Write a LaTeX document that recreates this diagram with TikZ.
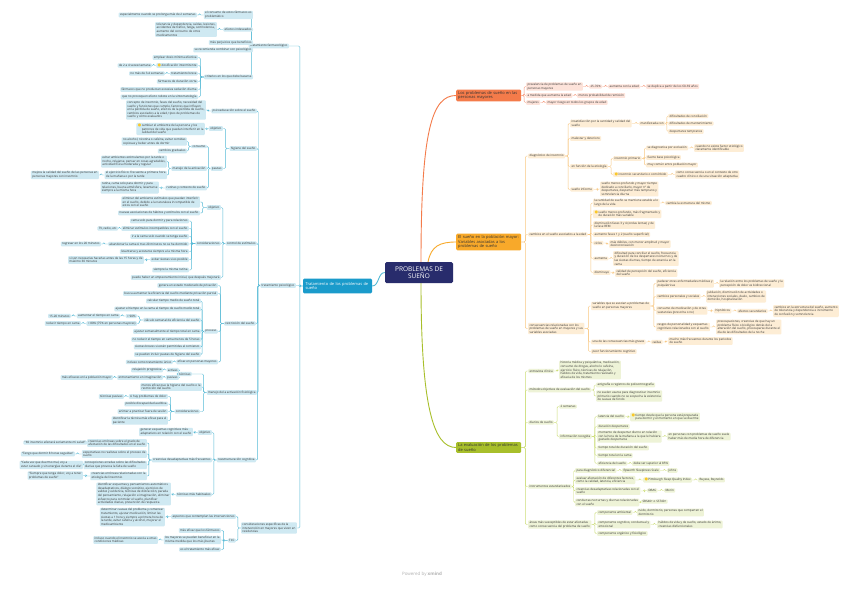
\documentclass[tikz,border=0pt]{standalone}
\usepackage{fontspec}
\setmainfont{Open Sans}
\newfontfamily\djv{DejaVu Sans}
\usetikzlibrary{backgrounds,calc}
\definecolor{navy}{RGB}{40,44,108}
\definecolor{tdark}{RGB}{26,155,203}
\definecolor{tfill}{RGB}{207,233,242}
\definecolor{tline}{RGB}{86,186,214}
\definecolor{rdark}{RGB}{244,123,74}
\definecolor{rfill}{RGB}{253,227,218}
\definecolor{rline}{RGB}{246,150,120}
\definecolor{adark}{RGB}{248,169,42}
\definecolor{afill}{RGB}{253,237,213}
\definecolor{aline}{RGB}{249,200,130}
\definecolor{gdark}{RGB}{168,191,43}
\definecolor{gfill}{RGB}{238,243,215}
\definecolor{gline}{RGB}{205,222,120}
\definecolor{txt}{RGB}{50,50,50}
\definecolor{bulbc}{RGB}{250,200,40}
\newcommand\bulb{{\djv\fontsize{4}{3}\selectfont\color{bulbc}●}\,}
\tikzset{
 lf/.style={rounded corners=0.9pt, inner xsep=1.3pt, inner ysep=0.9pt, align=left, font=\fontsize{3}{3.6}\selectfont, text=txt},
 tleaf/.style={lf, fill=tfill, anchor=east},
 rleaf/.style={lf, fill=rfill, anchor=west},
 aleaf/.style={lf, fill=afill, anchor=west},
 gleaf/.style={lf, fill=gfill, anchor=west},
 tl/.style={draw=tline, line width=0.45pt, rounded corners=1.2pt},
 rl/.style={draw=rline, line width=0.45pt, rounded corners=1.2pt},
 al/.style={draw=aline, line width=0.45pt, rounded corners=1.2pt},
 gl/.style={draw=gline, line width=0.45pt, rounded corners=1.2pt},
 mainnode/.style={rounded corners=1.2pt, inner xsep=2pt, inner ysep=1.5pt, align=left, font=\fontsize{4}{4.8}\selectfont, anchor=west, text width=61pt, text=txt},
 centralnode/.style={fill=navy, text=white, rounded corners=1.5pt, minimum width=68pt, minimum height=21pt, align=center, font=\fontsize{6.5}{7.6}\selectfont, inner sep=1pt},
 tratnode/.style={fill=tdark, text=white, rounded corners=1.2pt, minimum height=14pt, text width=64pt, align=left, font=\fontsize{4}{4.8}\selectfont, inner xsep=2.5pt}
}
\newcommand\lk[2]{\coordinate (m) at ($(#1.west)!0.6!(#2.east)$);\draw[tl] (#1.west) -- (m |- #1.west) |- (#2.east);}
\newcommand\lkd[3]{\draw[tl] (#1.west) -- ++(-#3,0) |- (#2.east);}
\newcommand\rk[3]{\coordinate (m) at ($(#2.east)!0.6!(#3.west)$);\draw[#1] (#2.east) -- (m |- #2.east) |- (#3.west);}
\newcommand\lks[2]{\foreach \x in {#2} {\lk{#1}{\x}}}
\newcommand\rks[3]{\foreach \x in {#3} {\rk{#1}{#2}{\x}}}
\begin{document}
\begin{tikzpicture}[x=1pt,y=-1pt]
\useasboundingbox (0,0) rectangle (848,590);
% ---------- central ----------
\node[centralnode] (c) at (419,272.5) {PROBLEMAS DE\\SUEÑO};
\node[tratnode] (trat) at (337.5,286) {Tratamiento de los problemas de\\sueño};
\node[mainnode, fill=rdark] (prob) at (456,95.5) {Los problemas de sueño en las\\personas mayores};
\node[mainnode, fill=adark] (var) at (456,242) {El sueño en la población mayor:\\Variables asociadas a los\\problemas de sueño};
\node[mainnode, fill=gdark] (eval) at (456,447.5) {La evaluación de los problemas\\de sueño};
% ---------- farmacologico ----------
\node[tleaf] (farm) at (289,46) {tratamiento farmacológico};
\node[tleaf] (f1) at (253,15) {el consumo de estos fármacos es\\problemático};
\node[tleaf] (f1a) at (197,15) {especialmente cuando se prolonga más de 2 semanas};
\node[tleaf] (f2) at (253,29.5) {efectos indeseados};
\node[tleaf] (f2a) at (217,29.5) {tolerancia y dependencia, caídas, lesiones,\\accidentes de tráfico, fatiga, somnolencia,\\aumento del consumo de otros\\medicamentos};
\node[tleaf] (f3) at (253,42.5) {más perjuicios que beneficios};
\node[tleaf] (f4) at (253,50) {se recomienda combinar con psicológico};
\node[tleaf] (f5) at (253,77) {criterios en los que debe basarse};
\node[tleaf] (f5a) at (198,57.5) {emplear dosis mínima efectiva};
\node[tleaf] (f5b) at (198,65.5) {\bulb dosificación intermitente};
\node[tleaf] (f5b1) at (152,65.5) {de 2 a 4 veces/semana};
\node[tleaf] (f5c) at (198,73.5) {tratamiento breve};
\node[tleaf] (f5c1) at (165,73.5) {no más de 3-4 semanas};
\node[tleaf] (f5d) at (198,81.5) {fármacos de duración corta};
\node[tleaf] (f5e) at (198,89.5) {fármacos que no produzcan excesiva sedación diurna};
\node[tleaf] (f5f) at (198,97) {que no provoquen efecto rebote en la sintomatología};
% ---------- psicologico ----------
\node[tleaf] (psic) at (296,285.5) {tratamiento psicológico};
\node[tleaf] (p1) at (257,111) {psicoeducación sobre el sueño};
\node[tleaf] (p1a) at (206,110) {concepto de insomnio, fases del sueño, necesidad del\\sueño y funciones que cumple, factores que influyen\\en la pérdida de sueño, efectos de la pérdida de sueño,\\cambios asociados a la edad, tipos de problemas de\\sueño y cómo evaluarlos};
\node[tleaf] (p2) at (257,148.5) {higiene del sueño};
\node[tleaf] (p2a) at (223,128.5) {objetivo};
\node[tleaf] (p2a1) at (205,129) {\bulb cambiar el ambiente de la persona y los\\\phantom{\bulb}patrones de vida que puedan interferir en la\\\phantom{\bulb}calidad del sueño};
\node[tleaf] (p2b) at (223,168.5) {pautas};
\node[tleaf] (p2b1) at (207,146.5) {consumo};
\node[tleaf] (p2b1a) at (187,141.5) {no alcohol, nicotina o cafeína, evitar comidas\\copiosas y beber antes de dormir};
\node[tleaf] (p2b1b) at (187,151) {cambios graduales};
\node[tleaf] (p2b2) at (207,168.5) {manejo de la activación};
\node[tleaf] (p2b2a) at (167,161.5) {evitar ambientes estimulantes por la tarde o\\noche, relajarse, pensar en cosas agradables,\\actividad física moderada y regular};
\node[tleaf] (p2b2b) at (167,175) {el ejercicio físico: frecuente a primera hora\\de la mañana o por la tarde};
\node[tleaf] (p2b2b1) at (99,175) {mejora la calidad del sueño de las personas en\\personas mayores con insomnio};
\node[tleaf] (p2b3) at (207,188) {rutinas y contexto de sueño};
\node[tleaf] (p2b3a) at (159,187.5) {rutina, cama solo para dormir y para\\relaciones, buena atmósfera, levantarse\\siempre a la misma hora};
\node[tleaf] (p3) at (257,243.5) {control de estímulos};
\node[tleaf] (p3a) at (221,207.5) {objetivo};
\node[tleaf] (p3a1) at (200,202) {eliminar del ambiente estímulos que puedan interferir\\en el sueño, debido a la naturaleza incompatible de\\estos con el sueño};
\node[tleaf] (p3a2) at (200,213) {nuevas asociaciones de hábitos y estímulos con el sueño};
\node[tleaf] (p3b) at (221,243.5) {consideraciones};
\node[tleaf] (p3b1) at (189,221) {cama solo para dormir y para relaciones};
\node[tleaf] (p3b2) at (189,228.5) {eliminar estímulos incompatibles con el sueño};
\node[tleaf] (p3b2a) at (118,228.5) {TV, radio, etc};
\node[tleaf] (p3b3) at (189,236.5) {ir a la cama solo cuando se tenga sueño};
\node[tleaf] (p3b4) at (189,244) {abandonar la cama si tras 20 minutos no se ha dormido};
\node[tleaf] (p3b4a) at (101,244) {regresar en los 20 minutos};
\node[tleaf] (p3b5) at (189,251.5) {levantarse y acostarse siempre a la misma hora};
\node[tleaf] (p3b6) at (189,259.5) {evitar siestas si es posible};
\node[tleaf] (p3b6a) at (144,260) {si son necesarias hacerlas antes de las 15 horas y de\\máximo 30 minutos};
\node[tleaf] (p3b7) at (189,270) {siempre la misma rutina};
\node[tleaf] (p3c) at (221,277.5) {puede haber un empeoramiento inicial, que después mejorará};
\node[tleaf] (p4) at (256,323.5) {restricción del sueño};
\node[tleaf] (p4a) at (218,285.5) {genera un estado moderado de privación};
\node[tleaf] (p4b) at (218,293.5) {busca aumentar la eficiencia del sueño mediante privación parcial};
\node[tleaf] (p4c) at (218,331.5) {proceso};
\node[tleaf] (p4c1) at (201,301) {calcular tiempo medio de sueño total};
\node[tleaf] (p4c2) at (201,309) {ajustar el tiempo en la cama al tiempo de sueño medio total};
\node[tleaf] (p4c3) at (201,320) {cálculo semanal de eficiencia del sueño};
\node[tleaf] (p4c3a) at (137,316) {> 90\%};
\node[tleaf] (p4c3a1) at (120,316) {aumentar el tiempo en cama};
\node[tleaf] (p4c3a1a) at (71,316) {15-20 minutos};
\node[tleaf] (p4c3b) at (137,323.5) {< 80\% (75\% en personas mayores)};
\node[tleaf] (p4c3b1) at (81,323.5) {reducir tiempo en cama};
\node[tleaf] (p4c4) at (201,331.5) {ajustar semanalmente el tiempo total en cama};
\node[tleaf] (p4c5) at (201,339.5) {no reducir el tiempo en cama menos de 5 horas};
\node[tleaf] (p4c6) at (201,347) {siestas breves si están permitidas al comienzo};
\node[tleaf] (p4c7) at (201,354.5) {se pueden incluir pautas de higiene del sueño};
\node[tleaf] (p4d) at (218,362) {eficaz en personas mayores};
\node[tleaf] (p4d1) at (173,362) {incluso como tratamiento único};
\node[tleaf] (p5) at (257,392.5) {manejo de la activación fisiológica};
\node[tleaf] (p5a) at (192,374) {técnicas};
\node[tleaf] (p5a1) at (179,370) {activas};
\node[tleaf] (p5a1a) at (163,370) {relajación progresiva};
\node[tleaf] (p5a2) at (179,377.5) {pasivas};
\node[tleaf] (p5a2a) at (163,377.5) {entrenamiento en imaginación};
\node[tleaf] (p5a2a1) at (113,377.5) {más eficaces en la población mayor};
\node[tleaf] (p5b) at (202,387) {menos eficaz que la higiene del sueño o la\\restricción del sueño};
\node[tleaf] (p5c) at (200,411.5) {consideraciones};
\node[tleaf] (p5c1) at (168,396.5) {si hay problemas de dolor};
\node[tleaf] (p5c1a) at (124,396.5) {técnicas pasivas};
\node[tleaf] (p5c2) at (168,404) {posible discapacidad auditiva};
\node[tleaf] (p5c3) at (168,411.5) {animar a practicar fuera de sesión};
\node[tleaf] (p5c4) at (168,420.5) {identificar la técnica más eficaz para el\\paciente};
\node[tleaf] (p6) at (256,460) {reestructuración cognitiva};
\node[tleaf] (p6a) at (212,432.5) {objetivo};
\node[tleaf] (p6a1) at (193,432) {generar esquemas cognitivos más\\adaptativos en relación con el sueño};
\node[tleaf] (p6b) at (212,460) {creencias desadaptativas más frecuentes};
\node[tleaf] (p6b1) at (147,443) {creencias erróneas sobre el grado de\\afectación de las dificultades en el sueño};
\node[tleaf] (p6b1a) at (87,442.5) {“Mi insomnio afectará seriamente mi salud”};
\node[tleaf] (p6b2) at (147,454) {expectativas no realistas sobre el proceso de\\sueño};
\node[tleaf] (p6b2a) at (75,454) {“Tengo que dormir 8 horas seguidas”};
\node[tleaf] (p6b3) at (147,465) {concepciones erradas sobre las dificultades\\diarias que provoca la falta de sueño};
\node[tleaf] (p6b3a) at (83,465) {“Cada vez que duermo mal, voy a\\estar cansado y sin energías durante el día”};
\node[tleaf] (p6b4) at (147,476) {creencias erróneas relacionadas con la\\etiología del insomnio};
\node[tleaf] (p6b4a) at (83,475.5) {“Siempre que tenga dolor, voy a tener\\problemas de sueño”};
\node[tleaf] (p6c) at (212,494.5) {técnicas más habituales};
\node[tleaf] (p6c1) at (171,494) {identificar esquemas y pensamientos automáticos\\desadaptativos, diálogo socrático, ejercicios de\\validez y evidencia, técnicas de distracción, parada\\del pensamiento, relajación e imaginación, eliminar\\esfuerzo para controlar el sueño, planificar\\actividades diarias, prevención de respuesta};
% ---------- consideraciones especificas ----------
\node[tleaf] (cons) at (297,528) {consideraciones específicas de la\\intervención en mayores que viven en\\residencias};
\node[tleaf] (c1) at (236,516.5) {aspectos que contemplan las intervenciones};
\node[tleaf] (c1a) at (165,517) {determinar causas del problema y comenzar\\tratamiento, ajustar medicación, limitar las\\siestas a 1 hora y siempre a primera hora de\\la tarde, evitar cafeína y alcohol, mejorar el\\medioambiente};
\node[tleaf] (c2) at (236,540.5) {TCC};
\node[tleaf] (c2a) at (221,530.5) {más eficaz que los fármacos};
\node[tleaf] (c2b) at (221,540) {los mayores se pueden beneficiar en la\\misma medida que los más jóvenes};
\node[tleaf] (c2b1) at (158,540) {incluso cuando el insomnio se asocia a otras\\condiciones médicas};
\node[tleaf] (c2c) at (221,549.5) {es el tratamiento más eficaz};
% ---------- right: problemas ----------
\node[rleaf] (r1) at (526,86.5) {prevalencia de problemas de sueño en\\personas mayores};
\node[rleaf] (r1a) at (589,86.5) {25-70\%};
\node[rleaf] (r1a1) at (608,86.5) {aumenta con la edad};
\node[rleaf] (r1a1a) at (646,86.5) {se duplica a partir de los 60-69 años};
\node[rleaf] (r2) at (526,95.5) {a medida que aumenta la edad};
\node[rleaf] (r2a) at (577,95.5) {menos probabilidad de remisión};
\node[rleaf] (r3) at (526,102.5) {mujeres};
\node[rleaf] (r3a) at (546,102.5) {mayor riesgo en todos los grupos de edad};
% ---------- right: variables ----------
\node[aleaf] (a1) at (528,156) {diagnóstico de insomnio};
\node[aleaf] (a1a) at (570,123.5) {insatisfacción por la cantidad y calidad del\\sueño};
\node[aleaf] (a1a1) at (639,123.5) {manifestada con};
\node[aleaf] (a1a1x) at (668,116) {dificultades de conciliación};
\node[aleaf] (a1a1y) at (668,123.5) {dificultades de mantenimiento};
\node[aleaf] (a1a1z) at (668,131.5) {despertares tempranos};
\node[aleaf] (a1b) at (570,138.5) {malestar y deterioro};
\node[aleaf] (a1c) at (570,166.5) {en función de la etiología};
\node[aleaf] (a1c1) at (613,158.5) {insomnio primario};
\node[aleaf] (a1c1x) at (646,148) {se diagnostica por exclusión};
\node[aleaf] (a1c1x1) at (694,148) {cuando no existe factor etiológico\\claramente identificable};
\node[aleaf] (a1c1y) at (646,157.5) {fuerte base psicológica};
\node[aleaf] (a1c1z) at (646,165) {muy común entre población mayor};
\node[aleaf] (a1c2) at (613,174.5) {\bulb insomnio secundario o comórbido};
\node[aleaf] (a1c2a) at (675,174.5) {como consecuencia o en el contexto de otro\\cuadro clínico o de una situación adaptativa};
\node[aleaf] (a1d) at (570,189.5) {sueño informe};
\node[aleaf] (a1da) at (600,189) {sueño menos profundo y mayor tiempo\\dedicado a conciliarlo, mayor nº de\\despertares, despertar más temprano y\\somnolencia diurna};
\node[aleaf] (a2) at (528,234.5) {cambios en el sueño asociados a la edad};
\node[aleaf] (a2a) at (593,203) {la cantidad de sueño se mantiene estable a lo\\largo de la vida};
\node[aleaf] (a2a1) at (665,203) {cambia la estructura del mismo};
\node[aleaf] (a2b) at (593,214) {\bulb sueño menos profundo, más fragmentado y\\\phantom{\bulb}de duración más variable};
\node[aleaf] (a2c) at (593,225) {disminución fases 3 y 4 (ondas lentas) y de\\la fase REM};
\node[aleaf] (a2d) at (593,234.5) {aumento fases 1 y 2 (sueño superficial)};
\node[aleaf] (a2e) at (593,243) {ciclos};
\node[aleaf] (a2e1) at (609,244) {más débiles, con menor amplitud y mayor\\desincronización};
\node[aleaf] (a2f) at (593,258.5) {aumenta};
\node[aleaf] (a2f1) at (613,258.5) {dificultad para conciliar el sueño, frecuencia\\y duración de los despertares nocturnos y de\\las siestas diurnas, tiempo de estancia en la\\cama};
\node[aleaf] (a2g) at (593,272.5) {disminuye};
\node[aleaf] (a2g1) at (615,273) {calidad de percepción del sueño, eficiencia\\del sueño};
\node[aleaf] (a3) at (528,328.5) {consecuencias relacionadas con los\\problemas de sueño en mayores y sus\\variables asociadas};
\node[aleaf] (a3a) at (591,306) {variables que se asocian a problemas de\\sueño en personas mayores};
\node[aleaf] (v1) at (656,283.5) {padecer otras enfermedades médicas y\\psiquiátricas};
\node[aleaf] (v1a) at (719,283.5) {la relación entre los problemas de sueño y la\\percepción de dolor es bidireccional};
\node[aleaf] (v2) at (656,296.5) {cambios personales y sociales};
\node[aleaf] (v2a) at (706,296.5) {jubilación, disminución de actividades o\\interacciones sociales, duelo, cambios de\\domicilio, hospitalización};
\node[aleaf] (v3) at (656,310.5) {consumo de medicación y de otras\\sustancias (prescrita o no)};
\node[aleaf] (v3a) at (714,311) {hipnóticos};
\node[aleaf] (v3b) at (737,311) {efectos secundarios};
\node[aleaf] (v3c) at (773,311) {cambios en la estructura del sueño, aumento\\de tolerancia y dependencia e incremento\\de confusión y somnolencia};
\node[aleaf] (v4) at (656,327) {rasgos de personalidad y esquemas\\cognitivos relacionados con el sueño};
\node[aleaf] (v4a) at (716,327) {preocupaciones, creencias de que hay un\\problema físico o biológico detrás de la\\alteración del sueño, preocuparse durante el\\día de las dificultades de la noche};
\node[aleaf] (a3b) at (591,342) {una de las consecuencias más graves};
\node[aleaf] (a3b1) at (651,342) {caídas};
\node[aleaf] (a3b2) at (668,341) {mucho más frecuentes durante los periodos\\de sueño};
\node[aleaf] (a3c) at (591,351.5) {peor funcionamiento cognitivo};
% ---------- right: evaluacion ----------
\node[gleaf] (g1) at (528,371) {entrevista clínica};
\node[gleaf] (g1a) at (559,370) {historia médica y psiquiátrica, medicación,\\consumo de drogas, alcohol o cafeína,\\ejercicio físico, técnicas de relajación,\\hábitos de vida, tratamiento realizado y\\eficacia de los mismos};
\node[gleaf] (g2) at (528,390) {métodos objetivos de evaluación del sueño};
\node[gleaf] (g2a) at (596,385) {actigrafía o registros de polisomnografía};
\node[gleaf] (g2b) at (596,396) {no suelen usarse para diagnosticar insomnio\\primario cuando no se sospecha la existencia\\de causas de fondo};
\node[gleaf] (g3) at (528,422.5) {diarios de sueño};
\node[gleaf] (g3a) at (559,406.5) {2 semanas};
\node[gleaf] (g3b) at (559,436.5) {información recogida};
\node[gleaf] (d1) at (597,416.5) {latencia del sueño};
\node[gleaf] (d1a) at (630,417) {\bulb tiempo desde que la persona está preparada\\\phantom{\bulb}para dormir y el momento en que se duerme};
\node[gleaf] (d2) at (597,426.5) {duración despertares};
\node[gleaf] (d3) at (597,436.5) {momento de despertar diurno en relación\\con la hora de la mañana a la que le hubiera\\gustado despertarse};
\node[gleaf] (d3a) at (667,436.5) {en personas con problemas de sueño suele\\haber más de media hora de diferencia};
\node[gleaf] (d4) at (597,448) {tiempo total de duración del sueño};
\node[gleaf] (d5) at (597,455.5) {tiempo total en la cama};
\node[gleaf] (d6) at (597,463.5) {eficiencia del sueño};
\node[gleaf] (d6a) at (632,463.5) {debe ser superior al 85\%};
\node[gleaf] (g4) at (528,486.5) {instrumentos estandarizados};
\node[gleaf] (i1) at (575,470.5) {para diagnóstico diferencial};
\node[gleaf] (i1a) at (622,470.5) {Epworth Sleepiness Scale};
\node[gleaf] (i1b) at (667,470.5) {Johns};
\node[gleaf] (i2) at (575,480) {evaluar afectación de diferentes factores,\\como la calidad, latencia, eficiencia};
\node[gleaf] (i2a) at (643,480) {\bulb Pittsburgh Sleep Quality Index};
\node[gleaf] (i2b) at (698,480) {Buysse, Reynolds};
\node[gleaf] (i3) at (575,491) {creencias desadaptativas relacionadas con el\\sueño};
\node[gleaf] (i3a) at (647,490.5) {DBAS};
\node[gleaf] (i3b) at (664,490.5) {Morin};
\node[gleaf] (i4) at (575,502.5) {conductas nocturnas y diurnas relacionadas\\con el sueño};
\node[gleaf] (i4a) at (641,501.5) {SBS40+ o SST40+};
\node[gleaf] (g5) at (528,524.5) {áreas más susceptibles de estar afectadas\\como consecuencia del problema de sueño};
\node[gleaf] (k1) at (597,512.5) {componente ambiental};
\node[gleaf] (k1a) at (637,512.5) {ruido, dormitorio, personas que comparten el\\dormitorio};
\node[gleaf] (k2) at (597,524.5) {componente cognitivo, conductual y\\emocional};
\node[gleaf] (k2a) at (657,524.5) {hábitos de vida y de sueño, estado de ánimo,\\creencias disfuncionales};
\node[gleaf] (k3) at (597,533.5) {componente orgánico y fisiológico};
% footer
\node[font=\fontsize{4.5}{5}\selectfont, text=black!30] (foot) at (422,574) {Powered by \textbf{xmind}};
% ---------- connectors ----------
\begin{pgfonlayer}{background}
\fill[white] (0,0) rectangle (848,590);
\draw[draw=tline, line width=0.9pt] (c.west) .. controls +(-7,0) and +(7,0) .. (trat.east);
\draw[draw=rdark, line width=0.9pt] (421,262) .. controls (421,130) and (432,95.5) .. (prob.west);
\draw[draw=adark, line width=0.9pt] (428,262) .. controls (431,246) and (440,242) .. (var.west);
\draw[draw=gdark, line width=0.9pt] (421,283) .. controls (421,405) and (433,447.5) .. (eval.west);
\lkd{trat}{farm}{3}\lkd{trat}{psic}{3}\lkd{trat}{cons}{3}
\lks{farm}{f1,f2,f3,f4,f5}
\lk{f1}{f1a}\lk{f2}{f2a}
\lks{f5}{f5a,f5b,f5c,f5d,f5e,f5f}
\lk{f5b}{f5b1}\lk{f5c}{f5c1}
\lks{psic}{p1,p2,p3,p4,p5,p6}
\lk{p1}{p1a}
\lks{p2}{p2a,p2b}\lk{p2a}{p2a1}
\lks{p2b}{p2b1,p2b2,p2b3}
\lks{p2b1}{p2b1a,p2b1b}
\lks{p2b2}{p2b2a,p2b2b}\lk{p2b2b}{p2b2b1}
\lk{p2b3}{p2b3a}
\lks{p3}{p3a,p3b,p3c}
\lks{p3a}{p3a1,p3a2}
\lks{p3b}{p3b1,p3b2,p3b3,p3b4,p3b5,p3b6,p3b7}
\lk{p3b2}{p3b2a}\lk{p3b4}{p3b4a}\lk{p3b6}{p3b6a}
\lks{p4}{p4a,p4b,p4c,p4d}
\lks{p4c}{p4c1,p4c2,p4c3,p4c4,p4c5,p4c6,p4c7}
\lks{p4c3}{p4c3a,p4c3b}
\lk{p4c3a}{p4c3a1}\lk{p4c3a1}{p4c3a1a}\lk{p4c3b}{p4c3b1}
\lk{p4d}{p4d1}
\lkd{p5}{p5a}{3}\lkd{p5}{p5b}{3}\lkd{p5}{p5c}{3}
\lks{p5a}{p5a1,p5a2}
\lk{p5a1}{p5a1a}\lk{p5a2}{p5a2a}\lk{p5a2a}{p5a2a1}
\lks{p5c}{p5c1,p5c2,p5c3,p5c4}
\lk{p5c1}{p5c1a}
\lks{p6}{p6a,p6b,p6c}
\lk{p6a}{p6a1}
\lks{p6b}{p6b1,p6b2,p6b3,p6b4}
\lk{p6b1}{p6b1a}\lk{p6b2}{p6b2a}\lk{p6b3}{p6b3a}\lk{p6b4}{p6b4a}
\lk{p6c}{p6c1}
\lks{cons}{c1,c2}\lk{c1}{c1a}
\lks{c2}{c2a,c2b,c2c}\lk{c2b}{c2b1}
% right
\rks{rl}{prob}{r1,r2,r3}
\rk{rl}{r1}{r1a}\rk{rl}{r1a}{r1a1}\rk{rl}{r1a1}{r1a1a}
\rk{rl}{r2}{r2a}\rk{rl}{r3}{r3a}
\rks{al}{var}{a1,a2,a3}
\rks{al}{a1}{a1a,a1b,a1c,a1d}
\rk{al}{a1a}{a1a1}
\rks{al}{a1a1}{a1a1x,a1a1y,a1a1z}
\rks{al}{a1c}{a1c1,a1c2}
\rks{al}{a1c1}{a1c1x,a1c1y,a1c1z}
\rk{al}{a1c1x}{a1c1x1}\rk{al}{a1c2}{a1c2a}\rk{al}{a1d}{a1da}
\rks{al}{a2}{a2a,a2b,a2c,a2d,a2e,a2f,a2g}
\rk{al}{a2a}{a2a1}\rk{al}{a2e}{a2e1}\rk{al}{a2f}{a2f1}\rk{al}{a2g}{a2g1}
\rks{al}{a3}{a3a,a3b,a3c}
\rks{al}{a3a}{v1,v2,v3,v4}
\rk{al}{v1}{v1a}\rk{al}{v2}{v2a}\rk{al}{v3}{v3a}\rk{al}{v3a}{v3b}\rk{al}{v3b}{v3c}\rk{al}{v4}{v4a}
\rk{al}{a3b}{a3b1}\rk{al}{a3b1}{a3b2}
\rks{gl}{eval}{g1,g2,g3,g4,g5}
\rk{gl}{g1}{g1a}
\rks{gl}{g2}{g2a,g2b}
\rks{gl}{g3}{g3a,g3b}
\rks{gl}{g3b}{d1,d2,d3,d4,d5,d6}
\rk{gl}{d1}{d1a}\rk{gl}{d3}{d3a}\rk{gl}{d6}{d6a}
\rks{gl}{g4}{i1,i2,i3,i4}
\rk{gl}{i1}{i1a}\rk{gl}{i1a}{i1b}
\rk{gl}{i2}{i2a}\rk{gl}{i2a}{i2b}
\rk{gl}{i3}{i3a}\rk{gl}{i3a}{i3b}
\rk{gl}{i4}{i4a}
\rks{gl}{g5}{k1,k2,k3}
\rk{gl}{k1}{k1a}\rk{gl}{k2}{k2a}
\end{pgfonlayer}
\end{tikzpicture}
\end{document}
